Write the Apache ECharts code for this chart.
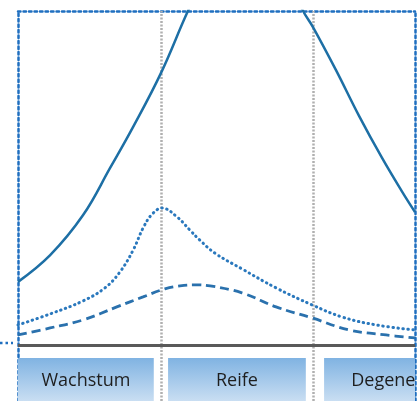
<!DOCTYPE html>
<html>
<head>
<meta charset="utf-8">
<script src="https://cdn.jsdelivr.net/npm/echarts@6/dist/echarts.min.js"></script>
<style>html,body{margin:0;padding:0;background:#fff;}#c{width:419px;height:401px;}</style>
</head>
<body>
<div id="c"></div>
<script>
// x: time 0..100 (share of life cycle), y: relative level 0..100 (axis top)
const solidCurve = [[0,18.9],[8.1,26.9],[16.4,38.9],[23.2,53.0],[29.0,65.3],[36.0,81.4],[42.8,100.0],[49.6,116.8],[57.2,122.8],[64.7,116.8],[71.8,100.0],[74.3,95.2],[80.1,82.3],[85.9,68.6],[91.7,56.0],[96.7,46.0],[100,39.8]];
const dottedCurve = [[0,6.0],[8.1,9.3],[16.4,13.2],[21.9,17.1],[25.7,21.9],[29.0,28.4],[31.5,35.0],[33.8,39.2],[36.3,41.0],[40.1,38.3],[43.3,34.4],[45.8,31.4],[49.6,27.5],[56.4,22.8],[65.0,17.1],[74.1,12.0],[81.6,8.4],[90.2,6.0],[100,4.5]];
const dashedCurve = [[0,3.0],[8.1,5.1],[16.4,7.5],[24.9,11.4],[31.5,14.4],[37.0,16.8],[40.8,17.7],[44.6,18.0],[48.4,17.7],[56.4,15.6],[65.0,11.4],[74.1,8.1],[83.4,4.5],[92.7,3.0],[100,2.1]];
const phaseNames = ['Wachstum','Reife','Degeneration'];
const phaseStart = [0, 37.8, 77.1];
const phaseEnd = [34.2, 72.5, 119.6];
const phaseBounds = [36.0, 74.3];

const chart = echarts.init(document.getElementById('c'));
const frameLine = {show:true, onZero:false, lineStyle:{color:'#1f6fc0', width:2.5, type:[2.5,3]}};
const phaseData = phaseNames.map((n,i)=>[phaseStart[i], phaseEnd[i]]);
const Y_MIN = -16.77;
const sepStyle = {color:'#b0b0b0', width:2.5, type:[2,1.5]};

chart.setOption({
  animation:false,
  grid:{left:18, right:4, top:11, bottom:0},
  xAxis:{type:'value', min:0, max:100, position:'top', axisLine:frameLine, axisTick:{show:false}, axisLabel:{show:false}, splitLine:{show:false}},
  yAxis:[
    {type:'value', min:Y_MIN, max:100, position:'left', axisLine:frameLine, axisTick:{show:false}, axisLabel:{show:false}, splitLine:{show:false}},
    {type:'value', min:Y_MIN, max:100, position:'right', axisLine:frameLine, axisTick:{show:false}, axisLabel:{show:false}, splitLine:{show:false}}
  ],
  graphic:[{type:'line', shape:{x1:0,y1:343,x2:13,y2:343}, style:{stroke:'#1f6fc0', lineWidth:2.5, lineDash:[2.5,3]}}],
  series:[
    {
      type:'custom', clip:true, z:1, silent:true,
      data: phaseData,
      renderItem:function(params, api){
        const p0 = api.coord([api.value(0), 0]);
        const p1 = api.coord([api.value(1), Y_MIN]);
        const top = p0[1] + 13;
        const bottom = p1[1] + 10;
        const w = p1[0]-p0[0];
        return {
          type:'group',
          children:[
            {type:'rect', shape:{x:p0[0], y:top, width:w, height:bottom-top},
             style:{fill:new echarts.graphic.LinearGradient(0,0,0,1,[{offset:0,color:'#80b3e2'},{offset:1,color:'#dae8f6'}])}},
            {type:'text', style:{text:phaseNames[params.dataIndex], x:p0[0]+w/2, y:top+23, align:'center', verticalAlign:'middle',
              fill:'#1e1e1e', font:'18px "Open Sans"'}}
          ]
        };
      }
    },
    {
      name:'Kurve 1', type:'line', data:solidCurve, smooth:0.4, showSymbol:false, z:4,
      lineStyle:{color:'#1d6fa5', width:2.5},
      markLine:{silent:true, symbol:'none', label:{show:false}, z:2,
        data:[
          {xAxis:phaseBounds[0], lineStyle:sepStyle},
          {xAxis:phaseBounds[1], lineStyle:sepStyle},
          {yAxis:0, lineStyle:{color:'#595959', width:3, type:'solid'}}
        ]}
    },
    {
      name:'Kurve 2', type:'line', data:dottedCurve, smooth:0.4, showSymbol:false, z:4,
      lineStyle:{color:'#2a78bd', width:3, type:[0.5,4.5], cap:'round'}
    },
    {
      name:'Kurve 3', type:'line', data:dashedCurve, smooth:0.4, showSymbol:false, z:4,
      lineStyle:{color:'#2a71ad', width:2.8, type:[9,5]}
    }
  ]
});
</script>
</body>
</html>
